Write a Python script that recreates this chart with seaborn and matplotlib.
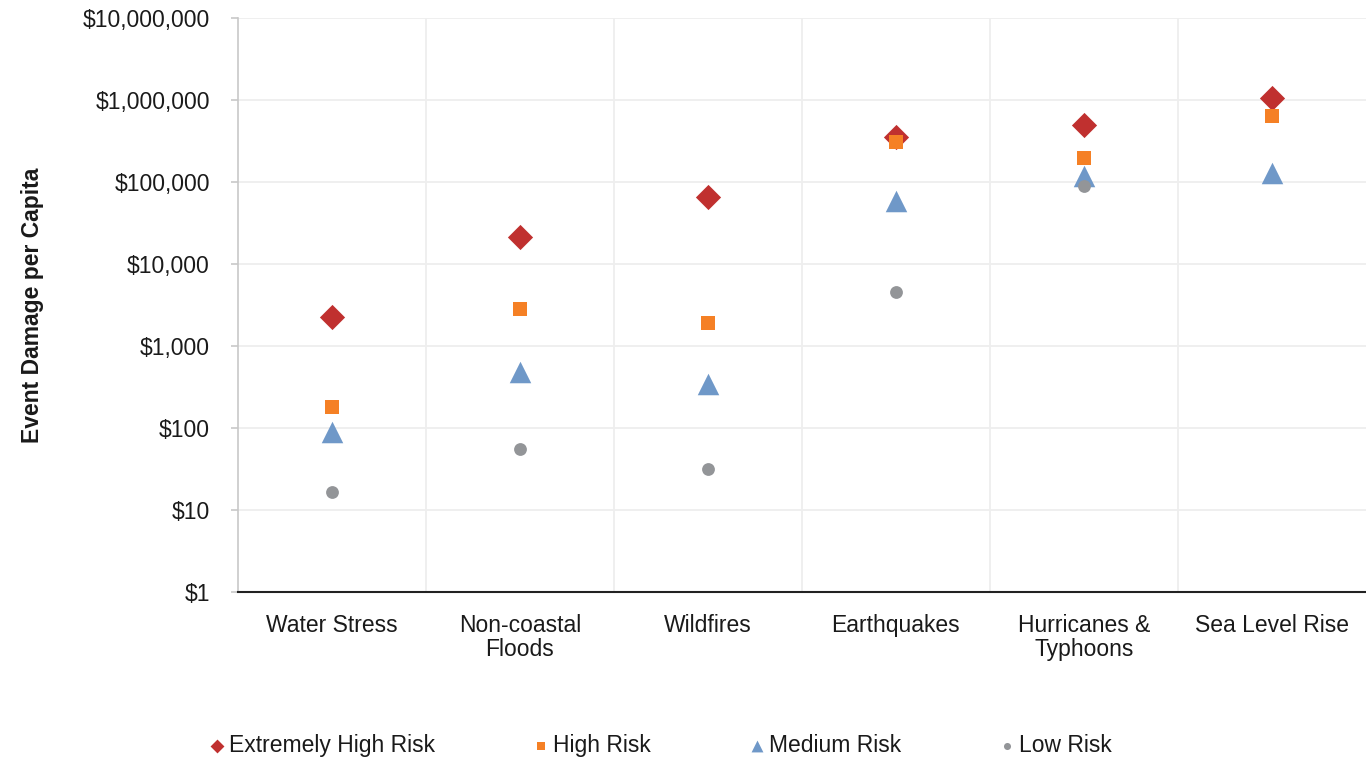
import numpy as np
import pandas as pd
import matplotlib.pyplot as plt
import seaborn as sns
from matplotlib.ticker import FuncFormatter, FixedLocator, NullLocator

# values
categories = ['Water Stress', 'Non-coastal\nFloods', 'Wildfires', 'Earthquakes',
              'Hurricanes &\nTyphoons', 'Sea Level Rise']
extremely_high = [2260, 21300, 65600, 354000, 495000, 1075000]
high = [180, 2830, 1910, 310000, 198000, 637000]
medium = [90, 490, 350, 59400, 118000, 129000]
low = [16.6, 55, 31.6, 4600, 89600, np.nan]

series = [
    ('Extremely High Risk', extremely_high, 'D', '#C0302F', 165),
    ('High Risk', high, 's', '#F58025', 95),
    ('Medium Risk', medium, '^', '#6F98C8', 240),
    ('Low Risk', low, 'o', '#939598', 85),
]

sns.set_theme(style='white')
plt.rcParams['font.family'] = ['Liberation Sans', 'DejaVu Sans']

fig = plt.figure(figsize=(13.66, 7.61), dpi=100)
ax = fig.add_axes([0.174, 0.222, 0.826, 0.754])

xpos = np.arange(len(categories))
for name, vals, mk, col, sz in series:
    df = pd.DataFrame({'x': xpos, 'y': vals}).dropna()
    sns.scatterplot(data=df, x='x', y='y', marker=mk, color=col, s=sz,
                    linewidth=0, ax=ax, label=name, zorder=3)

ax.set_yscale('log')
ax.set_ylim(1, 1e7)
ax.set_xlim(-0.5, len(categories) - 0.5)
ax.yaxis.set_major_locator(FixedLocator([10 ** i for i in range(8)]))
ax.yaxis.set_minor_locator(NullLocator())
ax.yaxis.set_major_formatter(FuncFormatter(lambda v, p: '${:,.0f}'.format(v)))
ax.set_xticks(xpos)
ax.set_xticklabels(categories, linespacing=1.05)
ax.xaxis.set_minor_locator(FixedLocator(xpos[:-1] + 0.5))

ax.grid(True, which='major', axis='y', color='#EEEEEE', linewidth=1.3)
ax.grid(True, which='minor', axis='x', color='#EEEEEE', linewidth=1.3)
ax.tick_params(axis='x', which='both', length=0, labelsize=16.5, colors='#1A1A1A', pad=16)
ax.tick_params(axis='y', which='major', length=5, width=1.2, color='#C8C8C8',
               labelsize=16.5, labelcolor='#1A1A1A', pad=15, left=True)
ax.spines['top'].set_visible(False)
ax.spines['right'].set_visible(False)
ax.spines['left'].set_color('#C8C8C8')
ax.spines['left'].set_linewidth(1.2)
ax.spines['bottom'].set_color('#222222')
ax.spines['bottom'].set_linewidth(1.5)
ax.spines['bottom'].set_zorder(4)

ax.set_xlabel('')
ax.set_ylabel('Event Damage per Capita', fontsize=16.5, fontweight='bold', color='#1A1A1A')
ax.yaxis.set_label_coords(-0.172, 0.5)

handles, labels = ax.get_legend_handles_labels()
ax.get_legend().remove()
fig.legend(handles, labels, loc='center', bbox_to_anchor=(0.478, 0.021), ncol=4,
           frameon=False, fontsize=16.5, handletextpad=-0.45, columnspacing=3.6,
           markerscale=0.55, labelcolor='#1A1A1A')

plt.savefig('out.png', dpi=100)
